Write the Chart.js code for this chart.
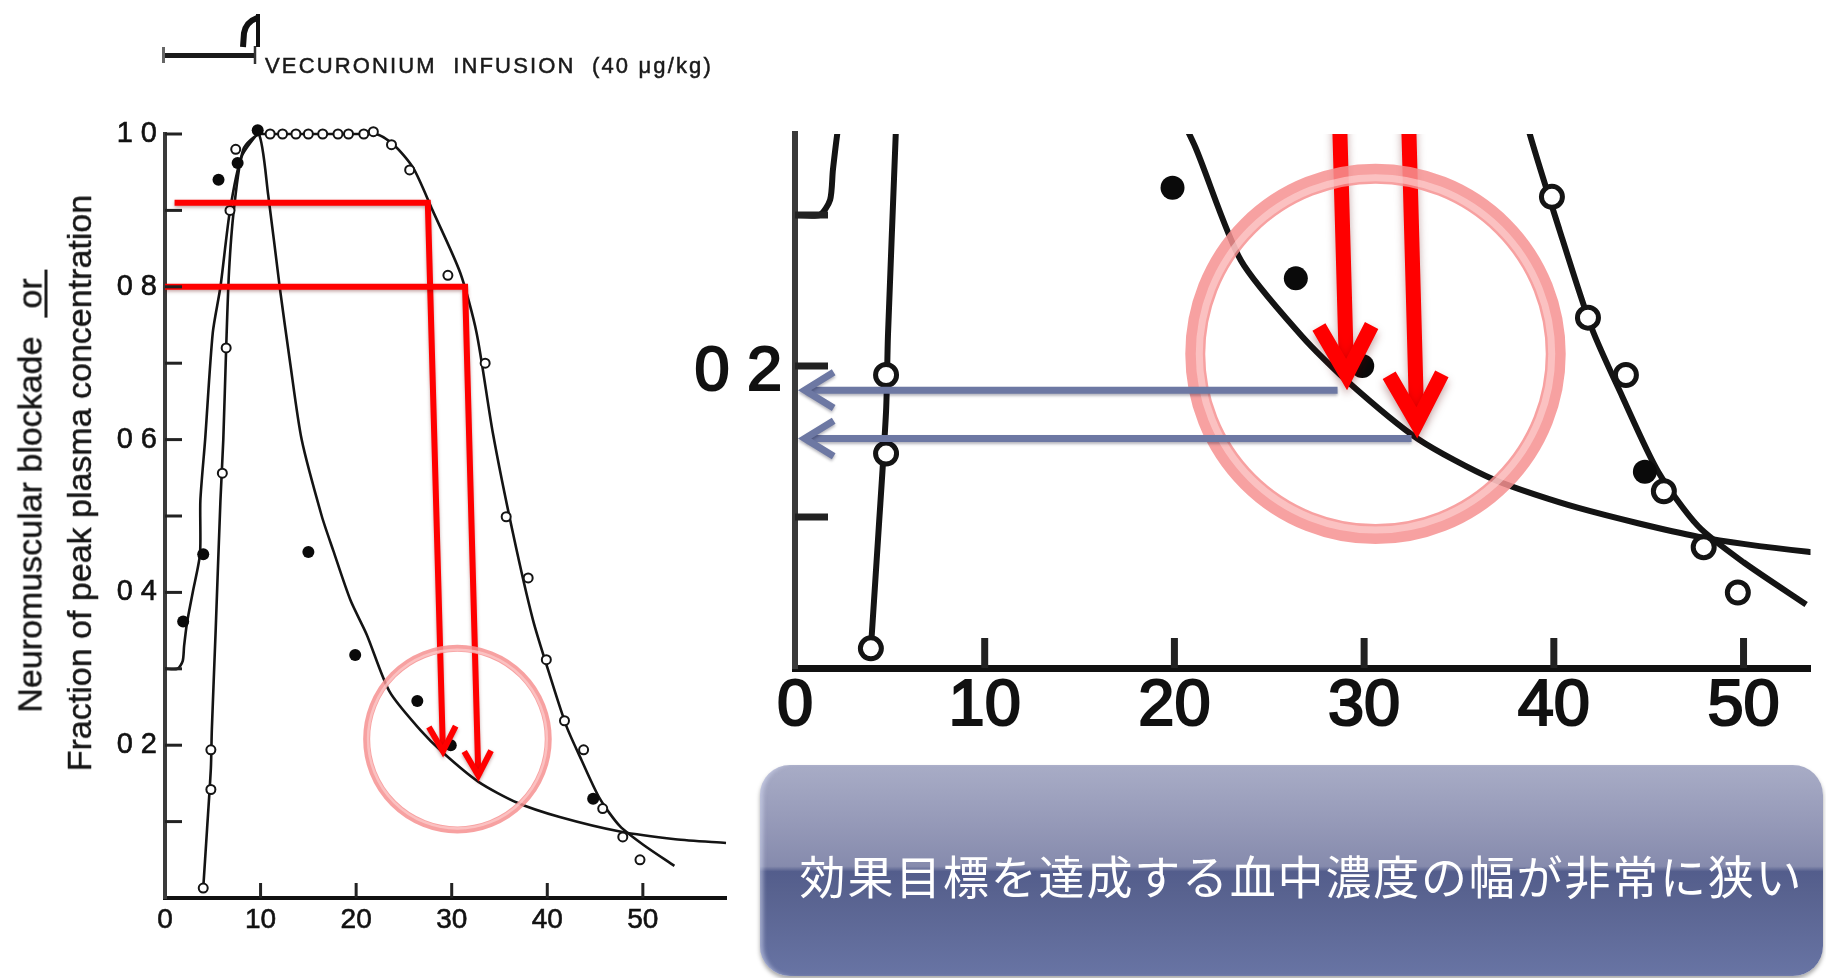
<!DOCTYPE html>
<html lang="ja">
<head>
<meta charset="utf-8">
<title>Vecuronium infusion: neuromuscular blockade and plasma concentration</title>
<script src="https://cdn.jsdelivr.net/npm/chart.js@4.4.1/dist/chart.umd.min.js"></script>
<style>
  html, body { margin:0; padding:0; background:#fff; }
  body { position:relative; width:1826px; height:978px; overflow:hidden;
         font-family:"Liberation Sans", Arial, sans-serif; color:#1a1a1a; }
  #mainChart { position:absolute; left:0; top:0; }
  #zoomChart { position:absolute; left:660px; top:0; filter:blur(0.5px); }
  .ytitle { position:absolute; white-space:nowrap; font-size:34px; line-height:34px;
            transform:translate(-50%,-50%) rotate(-90deg); color:#161616;
            -webkit-text-stroke:0.4px #161616; }
  .ytitle .ul { display:inline-block; border-bottom:3px solid #1c1c1c; padding:0 9px; line-height:30px; }
  #infusion { position:absolute; left:0; top:0; }
  #infusionLabel { position:absolute; left:265px; top:55px; font-size:22px; line-height:22px;
                   white-space:nowrap; color:#1a1a1a; -webkit-text-stroke:0.5px #1a1a1a; }
  #message { position:absolute; left:760px; top:765px; width:1063px; height:211px; border-radius:30px;
             box-sizing:border-box;
             background:linear-gradient(to bottom, #a8acc6 0%, #9599b8 28%, #868bad 48%, #535d8c 50.5%,
                                         #58628f 60%, #6874a4 100%);
             box-shadow:0 3px 4px rgba(0,0,0,0.35), inset 5px 0 4px -2px rgba(220,225,250,0.55);
             display:flex; align-items:center; justify-content:center; }
  #message span { font-family:"Noto Sans CJK JP", sans-serif; font-size:46px; color:#fff;
                  letter-spacing:1.8px; position:relative; top:3px; left:10px; }
</style>
</head>
<body>
<canvas id="mainChart" width="760" height="978"></canvas>
<canvas id="zoomChart" width="1166" height="760"></canvas>

<svg id="infusion" width="300" height="90">
  <rect x="163" y="53" width="92" height="5" fill="#1a1a1a"/>
  <line x1="163.5" y1="47" x2="163.5" y2="63" stroke="#666" stroke-width="3"/>
  <line x1="255" y1="46" x2="255" y2="64" stroke="#333" stroke-width="2.5"/>
  <line x1="258" y1="14" x2="258" y2="47" stroke="#111" stroke-width="4"/>
  <path d="M243 47 L244 33 Q246 22 257 18" fill="none" stroke="#111" stroke-width="6"/>
</svg>
<div id="infusionLabel">VECURONIUM&nbsp; INFUSION&nbsp; (40 μg/kg)</div>

<div class="ytitle" style="left:30px; top:491px;">Neuromuscular blockade&nbsp;&nbsp;<span class="ul">or</span></div>
<div class="ytitle" style="left:79px; top:483px;">Fraction of peak plasma concentration</div>

<div id="message"><span>効果目標を達成する血中濃度の幅が非常に狭い</span></div>

<script>
// ---- axis ticks ----
const xTickValues = [0, 10, 20, 30, 40, 50];
const xTickLabels = ['0', '10', '20', '30', '40', '50'];
const yTickValues = [0.1, 0.2, 0.3, 0.4, 0.5, 0.6, 0.7, 0.8, 0.9, 1.0];
const yTickLabels = ['', '0 2', '', '0 4', '', '0 6', '', '0 8', '', '1 0'];
const zoomYTickValues = [0.1, 0.2, 0.3];
const zoomYTickLabels = ['', '0 2', ''];

// ---- plasma concentration (fraction of peak), fitted curve, time in min ----
const plasmaFitTime = [0, 1.3, 1.85, 2.0, 2.3, 2.9, 3.66, 3.7, 4.2, 5.0, 5.8, 6.8, 8.0, 9.8,
                       10.8, 12.0, 13.1, 14.3, 16.4, 17.6, 19.4, 21.1, 23.5, 26.7, 29.1, 32.8,
                       36.8, 41.3, 47.6, 53.4, 58.7];
const plasmaFitFrac = [0.30, 0.30, 0.31, 0.33, 0.36, 0.40, 0.45, 0.52, 0.60, 0.74, 0.80, 0.90, 0.97, 1.0,
                       0.92, 0.80, 0.70, 0.60, 0.50, 0.455, 0.39, 0.345, 0.27, 0.22, 0.19, 0.152,
                       0.125, 0.106, 0.087, 0.077, 0.072];

// ---- neuromuscular blockade, fitted curve ----
const blockadeFitTime = [4.0, 4.4, 4.8, 4.9, 5.3, 5.8, 6.1, 6.4, 6.7, 7.2, 8.2, 10.0, 22.0, 24.0,
                         26.0, 28.0, 30.9, 32.6, 34.3, 36.4, 38.5, 40.3, 42.0, 43.6, 45.5, 47.6,
                         50.0, 53.3];
const blockadeFitFrac = [0.013, 0.09, 0.17, 0.22, 0.35, 0.52, 0.60, 0.72, 0.82, 0.90, 0.98, 1.0, 1.0, 0.985,
                         0.955, 0.90, 0.818, 0.74, 0.609, 0.478, 0.364, 0.29, 0.225, 0.18, 0.13, 0.094,
                         0.07, 0.042];

// ---- measured values ----
const plasmaObsTime = [1.9, 4.0, 5.6, 7.6, 9.7, 15.0, 19.9, 26.4, 29.9, 44.8];
const plasmaObsFrac = [0.362, 0.45, 0.94, 0.962, 1.005, 0.453, 0.318, 0.258, 0.20, 0.13];
const blockadeObsTime = [4.0, 4.8, 4.8, 6.0, 6.4, 6.8, 7.4,
                         11.0, 12.3, 13.7, 15.0, 16.5, 18.1, 19.2, 20.8, 21.8,
                         23.7, 25.6, 29.6, 33.5, 35.7, 38.0, 39.9, 41.8, 43.8, 45.8, 47.9, 49.7];
const blockadeObsFrac = [0.013, 0.142, 0.194, 0.556, 0.72, 0.90, 0.98,
                         1.0, 1.0, 1.0, 1.0, 1.0, 1.0, 1.0, 1.0, 1.003,
                         0.986, 0.953, 0.815, 0.70, 0.499, 0.419, 0.312, 0.232, 0.194, 0.117, 0.08, 0.05];

const targetBlockade = [0.91, 0.80];
const targetLineStart = [1.0, 0.0];
const targetTimes = [27.5, 31.4];
const readTimes = [29.1, 32.8];
const readConc = [0.184, 0.152];
const readArrowFrom = [28.6, 32.5];
const focusCenter = [30.6, 0.208];
const focusRadius = 9.5;

function pts(xs, ys) { return xs.map((x, i) => ({ x: x, y: ys[i] })); }

function buildDatasets(s) {
  return [
    { label: 'Neuromuscular blockade', data: pts(blockadeObsTime, blockadeObsFrac), showLine: false,
      pointRadius: s.ring, pointBackgroundColor: '#fff', pointBorderColor: '#141414', pointBorderWidth: s.ringW },
    { label: 'Plasma concentration', data: pts(plasmaObsTime, plasmaObsFrac), showLine: false,
      pointRadius: s.dot, pointBackgroundColor: '#0a0a0a', pointBorderColor: '#0a0a0a', pointBorderWidth: 0 },
    { label: 'Blockade fit', data: pts(blockadeFitTime, blockadeFitFrac), showLine: true,
      borderColor: '#141414', borderWidth: s.line, pointRadius: 0, tension: 0.25, fill: false },
    { label: 'Plasma fit', data: pts(plasmaFitTime, plasmaFitFrac), showLine: true,
      borderColor: '#141414', borderWidth: s.line, pointRadius: 0, tension: 0.25, fill: false }
  ];
}

// polyline ending in an open arrowhead whose outer point sits on the last point
function arrowPath(ctx, path, len, ang) {
  const w = ctx.lineWidth;
  const n = path.length;
  const from = path[n - 2], tip = path[n - 1];
  const phi = Math.atan2(tip[1] - from[1], tip[0] - from[0]);
  const back = (w / 2) / Math.sin(ang);
  const apex = [tip[0] - back * Math.cos(phi), tip[1] - back * Math.sin(phi)];
  ctx.beginPath();
  ctx.moveTo(path[0][0], path[0][1]);
  for (let i = 1; i < n - 1; i++) ctx.lineTo(path[i][0], path[i][1]);
  ctx.lineTo(apex[0] - w * 0.3 * Math.cos(phi), apex[1] - w * 0.3 * Math.sin(phi));
  ctx.stroke();
  ctx.beginPath();
  ctx.moveTo(apex[0] - len * Math.cos(phi - ang), apex[1] - len * Math.sin(phi - ang));
  ctx.lineTo(apex[0], apex[1]);
  ctx.lineTo(apex[0] - len * Math.cos(phi + ang), apex[1] - len * Math.sin(phi + ang));
  ctx.stroke();
}

// tick marks pointing into the plot, as in the printed figure
const inwardTicks = {
  id: 'inwardTicks',
  afterDraw(chart, args, o) {
    const { ctx, chartArea: a } = chart;
    const xs = chart.scales.x, ys = chart.scales.y;
    ctx.save();
    ctx.strokeStyle = o.color;
    ctx.lineWidth = o.width;
    xs.ticks.forEach(t => {
      if (t.value === 0) return;
      const px = xs.getPixelForValue(t.value);
      ctx.beginPath(); ctx.moveTo(px, a.bottom); ctx.lineTo(px, a.bottom - o.xLen); ctx.stroke();
    });
    ys.ticks.forEach(t => {
      const py = ys.getPixelForValue(t.value);
      ctx.beginPath(); ctx.moveTo(a.left, py); ctx.lineTo(a.left + o.yLen, py); ctx.stroke();
    });
    ctx.restore();
  }
};

// red read-off arrows, highlight ring and (zoomed view) the arrows back to the axis
const annotate = {
  id: 'annotate',
  afterDatasetsDraw(chart, args, o) {
    const { ctx, chartArea: a } = chart;
    const xs = chart.scales.x, ys = chart.scales.y;
    const X = v => xs.getPixelForValue(v), Y = v => ys.getPixelForValue(v);
    ctx.save();
    if (o.clip) { ctx.beginPath(); ctx.rect(a.left - 4, a.top, a.right - a.left + 8, a.bottom - a.top); ctx.clip(); }

    ctx.lineJoin = 'miter'; ctx.miterLimit = 10; ctx.lineCap = 'butt';
    ctx.strokeStyle = '#ff0000';
    ctx.lineWidth = o.redWidth;
    ctx.shadowColor = 'rgba(90,0,0,0.35)';
    ctx.shadowBlur = o.redWidth * 0.6;
    ctx.shadowOffsetY = o.redWidth * 0.3;
    targetBlockade.forEach((lvl, i) => {
      arrowPath(ctx, [[X(targetLineStart[i]), Y(lvl)], [X(targetTimes[i]), Y(lvl)],
                      [X(readTimes[i]), Y(readConc[i])]], o.redHead, 0.5);
    });

    ctx.shadowColor = 'rgba(0,0,0,0)';
    const cx = X(focusCenter[0]), cy = Y(focusCenter[1]);
    const r = X(focusCenter[0] + focusRadius) - cx;
    ctx.lineWidth = o.ringWidth;
    ctx.strokeStyle = 'rgba(246,145,145,0.85)';
    ctx.beginPath(); ctx.arc(cx, cy, r, 0, Math.PI * 2); ctx.stroke();
    ctx.lineWidth = o.ringWidth * 0.35;
    ctx.strokeStyle = 'rgba(255,220,220,0.55)';
    ctx.beginPath(); ctx.arc(cx, cy, r - o.ringWidth * 0.2, 0, Math.PI * 2); ctx.stroke();

    if (o.blue) {
      ctx.strokeStyle = '#6d78a3';
      ctx.lineWidth = o.blueWidth;
      ctx.shadowColor = 'rgba(0,0,30,0.3)';
      ctx.shadowBlur = 3;
      ctx.shadowOffsetY = 2;
      readConc.forEach((c, i) => {
        arrowPath(ctx, [[X(readArrowFrom[i]), Y(c)], [X(0) + 3, Y(c)]], o.blueHead, 0.55);
      });
    }
    ctx.restore();
  }
};

const numFamily = '"Liberation Sans", Arial, sans-serif';

function axisScales(cfg) {
  return {
    x: {
      type: 'linear', min: 0, max: cfg.xMax,
      afterFit: s => { s.height = cfg.xBox; },
      afterBuildTicks: s => { s.ticks = xTickValues.map(v => ({ value: v })); },
      ticks: { callback: (v, i) => xTickLabels[i], color: '#111', padding: cfg.xPad,
               maxRotation: 0, autoSkip: false,
               textStrokeColor: '#111', textStrokeWidth: cfg.stroke,
               font: { family: numFamily, size: cfg.xFont } },
      grid: { display: false, drawTicks: false },
      border: { display: true, color: '#111', width: cfg.xAxisW }
    },
    y: {
      type: 'linear', min: 0, max: cfg.yMax,
      afterFit: s => { s.width = cfg.yBox; },
      afterBuildTicks: s => { s.ticks = cfg.yVals.map(v => ({ value: v })); },
      ticks: { callback: (v, i) => cfg.yLabels[i], color: '#111', padding: cfg.yPad,
               autoSkip: false, labelOffset: cfg.yLabelOffset,
               textStrokeColor: '#111', textStrokeWidth: cfg.stroke,
               font: { family: numFamily, size: cfg.yFont } },
      grid: { display: false, drawTicks: false },
      border: { display: true, color: '#3a3a3a', width: cfg.yAxisW }
    }
  };
}

// full figure
new Chart(document.getElementById('mainChart'), {
  type: 'scatter',
  data: { datasets: buildDatasets({ line: 2.6, dot: 6, ring: 4.5, ringW: 2 }) },
  options: {
    responsive: false, animation: false,
    layout: { padding: { left: 0, top: 134, right: 34, bottom: 0 } },
    datasets: { scatter: { clip: false } },
    plugins: {
      legend: { display: false }, tooltip: { enabled: false },
      inwardTicks: { color: '#222', width: 3, xLen: 15, yLen: 17 },
      annotate: { clip: false, redWidth: 6, redHead: 28, ringWidth: 7, blue: false }
    },
    scales: axisScales({ xMax: 58.7, yMax: 1.0, xBox: 80, yBox: 165, xPad: 5, yPad: 8,
                         xFont: 28, yFont: 29, xAxisW: 4, yAxisW: 4, stroke: 0.6, yLabelOffset: 0,
                         yVals: yTickValues, yLabels: yTickLabels })
  },
  plugins: [inwardTicks, annotate]
});

// magnified lower part of the same figure
new Chart(document.getElementById('zoomChart'), {
  type: 'scatter',
  data: { datasets: buildDatasets({ line: 6, dot: 12, ring: 10.5, ringW: 5 }) },
  options: {
    responsive: false, animation: false,
    layout: { padding: { left: 0, top: 134, right: 0, bottom: 0 } },
    datasets: { scatter: { clip: 0 } },
    plugins: {
      legend: { display: false }, tooltip: { enabled: false },
      inwardTicks: { color: '#222', width: 7, xLen: 30, yLen: 33 },
      annotate: { clip: true, redWidth: 15, redHead: 55, ringWidth: 20,
                  blue: true, blueWidth: 7, blueHead: 34 }
    },
    scales: axisScales({ xMax: 53.53, yMax: 0.3536, xBox: 92, yBox: 135, xPad: 0, yPad: 13,
                         xFont: 65, yFont: 63, xAxisW: 7, yAxisW: 6, stroke: 2.2, yLabelOffset: 7,
                         yVals: zoomYTickValues, yLabels: zoomYTickLabels })
  },
  plugins: [inwardTicks, annotate]
});

// stretch the infusion caption to its printed width
(function () {
  const el = document.getElementById('infusionLabel');
  const n = el.textContent.length;
  const w = el.getBoundingClientRect().width;
  el.style.letterSpacing = ((448 - w) / n).toFixed(2) + 'px';
})();
</script>
</body>
</html>
